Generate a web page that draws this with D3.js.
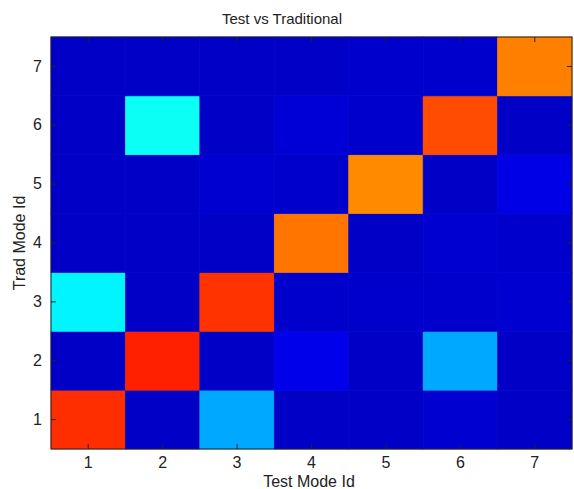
<!DOCTYPE html>
<html>
<head>
<meta charset="utf-8">
<script src="https://cdn.jsdelivr.net/npm/d3@7"></script>
<style>
  html, body { margin: 0; padding: 0; background: #fff; }
  svg { display: block; }
  text { font-family: "Liberation Sans Narrow", "Liberation Sans", Arial, sans-serif; fill: #222; }
</style>
</head>
<body>
<svg id="chart" width="574" height="489"></svg>
<script>
// ---- data ----
const testModes = ["1", "2", "3", "4", "5", "6", "7"];   // x categories
const tradModes = ["1", "2", "3", "4", "5", "6", "7"];   // y categories
// normalized values, one array per Trad Mode Id row (index = Test Mode Id - 1)
const trad1 = [0.83, 0.07, 0.29, 0.07, 0.07, 0.08, 0.07];
const trad2 = [0.07, 0.844, 0.07, 0.105, 0.07, 0.29, 0.07];
const trad3 = [0.365, 0.07, 0.825, 0.075, 0.075, 0.075, 0.08];
const trad4 = [0.07, 0.07, 0.07, 0.76, 0.07, 0.08, 0.075];
const trad5 = [0.07, 0.07, 0.08, 0.075, 0.74, 0.07, 0.10];
const trad6 = [0.07, 0.385, 0.07, 0.085, 0.075, 0.80, 0.07];
const trad7 = [0.07, 0.07, 0.07, 0.07, 0.075, 0.075, 0.75];
const rows = [trad1, trad2, trad3, trad4, trad5, trad6, trad7];
const titleText = "Test vs Traditional";
const xLabel = "Test Mode Id";
const yLabel = "Trad Mode Id";

// ---- layout ----
const svg = d3.select("#chart");
const L = 51, R = 572, T = 37, B = 449;

const x = d3.scaleBand().domain(testModes).range([L, R]).padding(0);
const y = d3.scaleBand().domain(tradModes).range([B, T]).padding(0);

// MATLAB jet colormap
function jet(t) {
  const c = v => Math.max(0, Math.min(1, v));
  const r = c(1.5 - Math.abs(4 * t - 3));
  const g = c(1.5 - Math.abs(4 * t - 2));
  const b = c(1.5 - Math.abs(4 * t - 1));
  return d3.rgb(r * 255, g * 255, b * 255).toString();
}
const color = d3.scaleSequential(jet).domain([0, 1]);

const cells = [];
rows.forEach((row, ri) => row.forEach((v, ci) => cells.push({ tx: testModes[ci], ty: tradModes[ri], v })));

svg.append("g").selectAll("rect").data(cells).join("rect")
  .attr("x", d => x(d.tx))
  .attr("y", d => y(d.ty))
  .attr("width", x.bandwidth())
  .attr("height", y.bandwidth())
  .attr("fill", d => color(d.v))
  .attr("stroke", d => color(d.v))
  .attr("stroke-width", 0.7);

// axes with inward ticks on all sides
const tick = 5;
const fs = "16px";
const gx = svg.append("g").attr("transform", `translate(0,${B})`)
  .call(d3.axisBottom(x).tickSizeInner(-tick).tickSizeOuter(0).tickPadding(8));
const gxt = svg.append("g").attr("transform", `translate(0,${T})`)
  .call(d3.axisTop(x).tickSizeInner(-tick).tickSizeOuter(0).tickFormat(""));
const gy = svg.append("g").attr("transform", `translate(${L},0)`)
  .call(d3.axisLeft(y).tickSizeInner(-tick).tickSizeOuter(0).tickPadding(9));
const gyr = svg.append("g").attr("transform", `translate(${R},0)`)
  .call(d3.axisRight(y).tickSizeInner(-tick).tickSizeOuter(0).tickFormat(""));
[gx, gxt, gy, gyr].forEach(g => {
  g.select(".domain").remove();
  g.selectAll(".tick line").attr("stroke", "#222");
  g.selectAll("text").attr("font-size", fs).attr("fill", "#222")
    .attr("font-family", '"Liberation Sans Narrow", "Liberation Sans", Arial, sans-serif');
});

svg.append("rect").attr("x", L).attr("y", T).attr("width", R - L).attr("height", B - T)
  .attr("fill", "none").attr("stroke", "#222").attr("stroke-width", 1);

// labels
svg.append("text").attr("x", 282).attr("y", 24).attr("text-anchor", "middle")
  .attr("font-size", "15px").text(titleText);
svg.append("text").attr("x", 309).attr("y", 487).attr("text-anchor", "middle")
  .attr("font-size", "16px").text(xLabel);
svg.append("text").attr("transform", "translate(25,243) rotate(-90)").attr("text-anchor", "middle")
  .attr("font-size", "16px").text(yLabel);
</script>
</body>
</html>
